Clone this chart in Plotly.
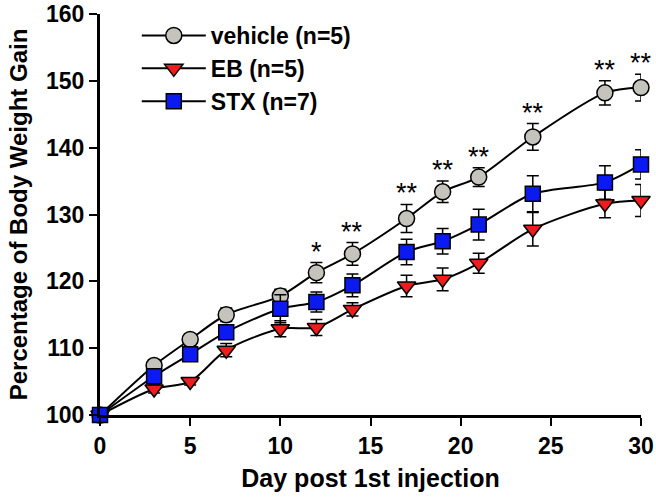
import plotly.graph_objects as go

days = [0, 3, 5, 7, 10, 12, 14, 17, 19, 21, 24, 28, 30]
vehicle = [100, 107.4, 111.3, 115.0, 117.8, 121.3, 124.1, 129.4, 133.4, 135.6, 141.6, 148.2, 149.0]
vehicle_err = [0, 0.8, 0.6, 1.0, 1.0, 1.5, 1.7, 2.1, 1.6, 1.4, 2.0, 1.8, 2.0]
eb = [100, 103.9, 105.0, 109.7, 112.9, 113.1, 115.8, 119.3, 120.3, 122.7, 127.8, 131.6, 132.1]
eb_err = [0, 0.6, 0.5, 1.0, 1.2, 1.2, 1.0, 1.6, 1.7, 1.5, 2.5, 2.1, 2.4]
stx = [100, 105.8, 109.1, 112.4, 115.9, 116.9, 119.4, 124.4, 126.0, 128.5, 133.1, 134.8, 137.5]
stx_err = [0, 0.7, 0.6, 0.8, 2.1, 1.5, 1.7, 1.9, 1.9, 2.3, 2.7, 2.5, 2.2]
stars = ["", "", "", "", "", "*", "**", "**", "**", "**", "**", "**", "**"]

FONT = "Arial, Liberation Sans, sans-serif"

fig = go.Figure()

def add(name, y, err, symbol, color, size):
    fig.add_trace(go.Scatter(
        x=days, y=y, name=name, mode="lines+markers",
        line=dict(color="black", width=2, shape="spline", smoothing=0.8),
        marker=dict(symbol=symbol, size=size, color=color, line=dict(color="black", width=1.5)),
        error_y=dict(type="data", array=err, color="black", thickness=1.5, width=6),
        cliponaxis=False,
    ))

add("vehicle (n=5)", vehicle, vehicle_err, "circle", "#c4c4bc", 16)
add("EB (n=5)", eb, eb_err, "triangle-down", "#ee1c1c", 16)
add("STX (n=7)", stx, stx_err, "square", "#0a1af0", 15)

for d, v, e, s in zip(days, vehicle, vehicle_err, stars):
    if s:
        fig.add_annotation(x=d, y=v + e, text=s, showarrow=False, yanchor="bottom",
                           yshift=-6, font=dict(family=FONT, size=27, color="black"))

fig.update_layout(
    width=656, height=497,
    margin=dict(l=100, r=15, t=14, b=82),
    paper_bgcolor="white", plot_bgcolor="white",
    font=dict(family=FONT, color="black"),
    showlegend=True,
    legend=dict(x=0.068, y=1.0, xanchor="left", yanchor="top", itemwidth=64,
                font=dict(family=FONT, size=23, color="black", weight="bold"),
                bgcolor="rgba(0,0,0,0)", tracegroupgap=0),
    xaxis=dict(range=[0, 30], tickvals=[0, 5, 10, 15, 20, 25, 30], automargin=False,
               showline=True, linecolor="black", linewidth=3, zeroline=False,
               showgrid=False, ticks="outside", ticklen=8, tickwidth=2, tickcolor="black",
               ticklabeloverflow="allow",
               tickfont=dict(family=FONT, size=23, weight="bold"),
               title=dict(text="Day post 1st injection", font=dict(family=FONT, size=25, weight="bold"), standoff=12)),
    yaxis=dict(range=[100, 160], tickvals=[100, 110, 120, 130, 140, 150, 160], automargin=False,
               showline=True, linecolor="black", linewidth=3, zeroline=False,
               showgrid=False, ticks="outside", ticklen=8, tickwidth=2, tickcolor="black",
               ticklabeloverflow="allow",
               tickfont=dict(family=FONT, size=23, weight="bold"),
               title=dict(text="Percentage of Body Weight Gain", font=dict(family=FONT, size=24, weight="bold"), standoff=12)),
)

fig.write_html("out.html", config={"displayModeBar": False},
               post_script="document.body.style.margin='0';")
